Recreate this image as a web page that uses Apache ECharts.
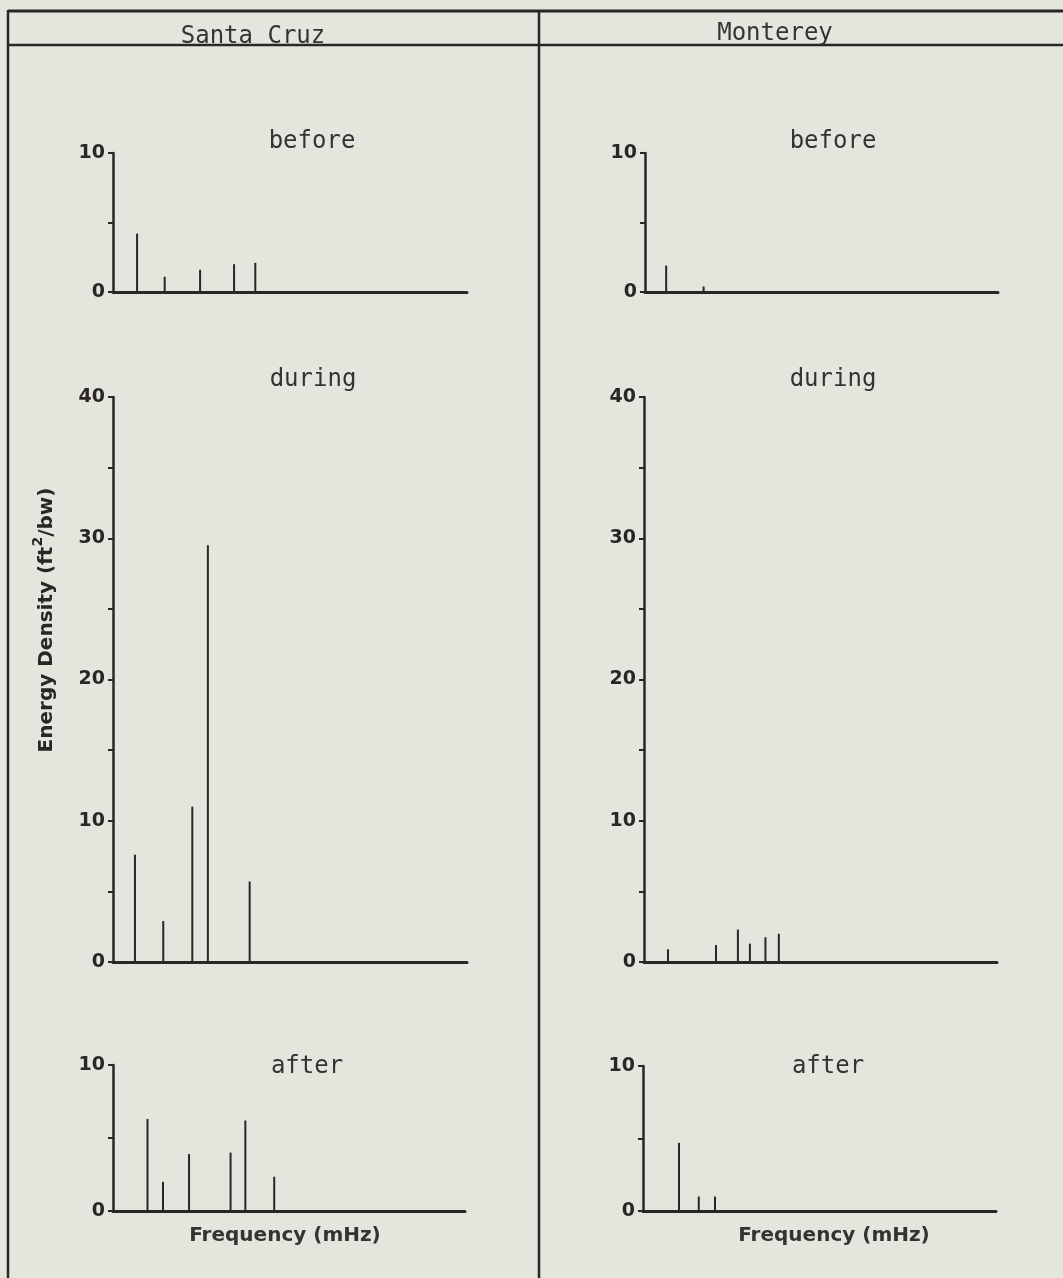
<!DOCTYPE html>
<html>
<head>
<meta charset="utf-8">
<script src="https://cdn.jsdelivr.net/npm/echarts@6/dist/echarts.min.js"></script>
<style>
html,body{margin:0;padding:0;background:#e4e6de;}
#chart{width:1063px;height:1278px;}
</style>
</head>
<body>
<div id="chart"></div>
<script>
// Station / period labels
const stations = ['Santa Cruz', 'Monterey'];
const periods = ['before', 'during', 'after'];
const yMax = [10, 40, 10];           // y-axis maximum per period
const yTickStep = 5;                  // minor ticks every 5
const yLabelStep = 10;                // labelled ticks every 10
const xMax = 50;                      // frequency axis extent (unlabelled)

// Santa Cruz spectral lines (frequency position, energy density)
const scBeforeFreq   = [3.4, 7.3, 12.3, 17.1, 20.1];
const scBeforeEnergy = [4.2, 1.1, 1.6, 2.0, 2.1];
const scDuringFreq   = [3.1, 7.1, 11.2, 13.4, 19.3];
const scDuringEnergy = [7.6, 2.9, 11.0, 29.5, 5.7];
const scAfterFreq    = [4.9, 7.1, 10.8, 16.7, 18.8, 22.9];
const scAfterEnergy  = [6.3, 2.0, 3.9, 4.0, 6.2, 2.35];

// Monterey spectral lines
const mbBeforeFreq   = [3.0, 8.3];
const mbBeforeEnergy = [1.9, 0.4];
const mbDuringFreq   = [3.4, 10.2, 13.3, 15.0, 17.2, 19.1];
const mbDuringEnergy = [0.9, 1.2, 2.3, 1.3, 1.75, 2.0];
const mbAfterFreq    = [5.1, 7.9, 10.2];
const mbAfterEnergy  = [4.7, 1.0, 1.0];

const yAxisTitle = 'Energy Density (ft';
const yAxisTitleSup = '2';
const yAxisTitleEnd = '/bw)';
const xAxisTitle = 'Frequency (mHz)';

const ink = '#2a2626';
const chart = echarts.init(document.getElementById('chart'));

// layout of the six panels (pixels)
const panels = [
  {freq: scBeforeFreq, energy: scBeforeEnergy, p: 0, left: 113, top: 153, width: 354, height: 139},
  {freq: scDuringFreq, energy: scDuringEnergy, p: 1, left: 113, top: 397, width: 354, height: 565},
  {freq: scAfterFreq,  energy: scAfterEnergy,  p: 2, left: 113, top: 1065, width: 352, height: 146},
  {freq: mbBeforeFreq, energy: mbBeforeEnergy, p: 0, left: 645, top: 153, width: 353, height: 139},
  {freq: mbDuringFreq, energy: mbDuringEnergy, p: 1, left: 644, top: 397, width: 353, height: 565},
  {freq: mbAfterFreq,  energy: mbAfterEnergy,  p: 2, left: 643, top: 1066, width: 353, height: 145}
];

const grid = [], xAxis = [], yAxis = [], series = [];
panels.forEach((pn, i) => {
  grid.push({left: pn.left, top: pn.top, width: pn.width, height: pn.height, containLabel: false});
  xAxis.push({
    type: 'value', gridIndex: i, min: 0, max: xMax,
    axisLine: {show: true, onZero: false, lineStyle: {color: ink, width: 3}},
    axisTick: {show: false}, axisLabel: {show: false}, splitLine: {show: false}
  });
  yAxis.push({
    type: 'value', gridIndex: i, min: 0, max: yMax[pn.p], interval: yTickStep,
    axisLine: {show: true, lineStyle: {color: ink, width: 2.5}},
    axisTick: {show: true, length: 5, lineStyle: {color: ink, width: 2}},
    axisLabel: {
      show: true, margin: 8, color: ink, fontFamily: 'DejaVu Sans', fontWeight: 'bold', fontSize: 19,
      formatter: v => (v % yLabelStep === 0 ? String(v) : '')
    },
    splitLine: {show: false}
  });
  series.push({
    type: 'bar', xAxisIndex: i, yAxisIndex: i, barWidth: 2, silent: true,
    itemStyle: {color: ink},
    data: pn.freq.map((f, k) => [f, pn.energy[k]])
  });
});

const monoFont = '24px "DejaVu Sans Mono"';
const txt = (x, y, text, align, font) => ({
  type: 'text', x: x, y: y, silent: true,
  style: {text: text, font: font || monoFont, fill: '#333', align: align || 'center', verticalAlign: 'middle'}
});
const line = (x1, y1, x2, y2, w) => ({
  type: 'line', silent: true, shape: {x1, y1, x2, y2},
  style: {stroke: ink, lineWidth: w || 2.5}
});

const graphic = [
  line(8, 11, 1063, 11, 3),
  line(8, 45, 1063, 45, 2.5),
  line(8, 10, 8, 1278, 2.5),
  line(539, 10, 539, 1278, 2.5),
  txt(253, 37, stations[0]),
  txt(775, 34, stations[1]),
  txt(312, 142, periods[0]), txt(833, 142, periods[0]),
  txt(313, 380, periods[1]), txt(833, 380, periods[1]),
  txt(307, 1067, periods[2]), txt(828, 1067, periods[2]),
  txt(285, 1236, xAxisTitle, 'center', 'bold 20px "DejaVu Sans"'),
  txt(834, 1236, xAxisTitle, 'center', 'bold 20px "DejaVu Sans"'),
  {
    type: 'text', x: 44, y: 620, rotation: Math.PI / 2, silent: true,
    style: {
      text: '{a|' + yAxisTitle + '}{s|' + yAxisTitleSup + '}{a|' + yAxisTitleEnd + '}',
      align: 'center', verticalAlign: 'middle', fill: ink,
      rich: {
        a: {font: 'bold 20px "DejaVu Sans"', fill: ink, verticalAlign: 'bottom', lineHeight: 26},
        s: {font: 'bold 14px "DejaVu Sans"', fill: ink, verticalAlign: 'top', lineHeight: 26}
      }
    }
  }
];

chart.setOption({
  backgroundColor: '#e4e6de',
  animation: false,
  grid, xAxis, yAxis, series, graphic
});
</script>
</body>
</html>
